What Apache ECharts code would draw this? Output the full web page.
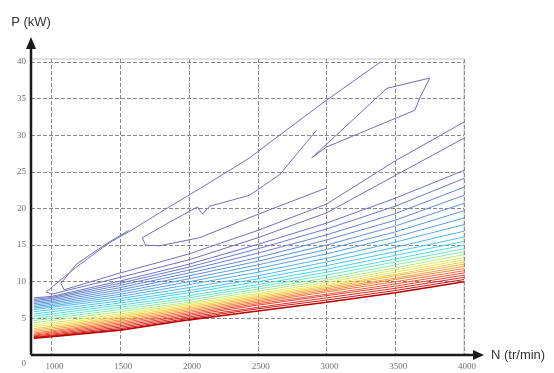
<!DOCTYPE html>
<html>
<head>
<meta charset="utf-8">
<script src="https://cdn.jsdelivr.net/npm/echarts@6/dist/echarts.min.js"></script>
<style>
  html, body { margin: 0; padding: 0; background: #fff; }
  #chart { width: 554px; height: 373px; }
</style>
</head>
<body>
<div id="chart"></div>
<script>
// Carte de contours P(N) — lignes
const speedTicks = [1000, 1500, 2000, 2500, 3000, 3500, 4000];
const powerTicks = [0, 5, 10, 15, 20, 25, 30, 35, 40];
const N_GRID = [870, 1000, 1500, 2000, 2500, 3000, 3500, 4000];

// contours fermés / en épingle (haut de la carte), points [N, P]
const hairpinA1 = [[3394, 40], [3001, 34.8], [2658, 30.0], [2440, 26.9], [2112, 23.1], [1784, 19.4],
  [1587, 17.1], [1419, 15.3], [1179, 12.0], [960, 8.6], [1000, 8.3], [1500, 10.6], [2000, 13.0],
  [2500, 16.0], [3000, 19.4], [3500, 24.5], [4000, 29.6]];
const hairpinA2 = [[1560, 17.0], [1400, 15.2], [1180, 12.4], [1069, 9.8], [1090, 8.9], [1500, 11.2],
  [2000, 13.8], [2500, 17.0], [3000, 20.6], [3500, 26.5], [4000, 31.8]];
const hairpinC2 = [[2928, 30.7], [2658, 24.6], [2440, 21.8], [2148, 20.3], [2097, 19.2], [2061, 20.2],
  [1856, 18.1], [1660, 16.0], [1682, 15.0], [1784, 14.9], [2075, 16.0], [2500, 19.2], [3000, 22.8]];
const island = [[2892, 26.9], [3439, 36.4], [3751, 37.8], [3679, 35.1], [3642, 33.4], [3001, 28.4], [2892, 26.9]];

// lignes ouvertes, P lu aux vitesses N_GRID (du haut vers le bas)
const blueP = [
  [7.8, 8.0, 10.1, 12.4, 15.1, 18.0, 21.4, 25.2],
  [7.6, 7.85, 9.8, 12.0, 14.5, 17.2, 20.3, 24.1],
  [7.4, 7.7, 9.5, 11.6, 13.9, 16.4, 19.3, 22.9],
  [7.2, 7.5, 9.2, 11.2, 13.3, 15.7, 18.4, 21.8],
  [7.0, 7.3, 8.9, 10.8, 12.8, 15.0, 17.6, 20.7],
  [6.8, 7.1, 8.6, 10.4, 12.3, 14.4, 16.8, 19.7],
  [6.6, 6.9, 8.3, 10.0, 11.8, 13.8, 16.1, 18.7],
  [6.4, 6.7, 8.0, 9.6, 11.3, 13.2, 15.4, 17.8],
  [6.2, 6.5, 7.7, 9.2, 10.8, 12.7, 14.7, 16.9]
];
const cyanP = [
  [5.9, 6.2, 7.4, 8.8, 10.4, 12.2, 14.1, 16.1],
  [5.6, 5.9, 7.1, 8.5, 10.0, 11.7, 13.6, 15.5],
  [5.3, 5.6, 6.8, 8.1, 9.6, 11.3, 13.1, 15.0],
  [5.0, 5.3, 6.5, 7.8, 9.3, 10.9, 12.7, 14.5]
];
const greenP = [
  [4.7, 5.0, 6.2, 7.5, 9.0, 10.5, 12.3, 14.1],
  [4.4, 4.7, 5.9, 7.2, 8.7, 10.2, 11.9, 13.7]
];
const yellowP = [
  [4.1, 4.4, 5.6, 7.0, 8.4, 9.9, 11.6, 13.3],
  [3.85, 4.15, 5.4, 6.8, 8.2, 9.6, 11.3, 13.0],
  [3.6, 3.9, 5.2, 6.6, 8.0, 9.4, 11.0, 12.7]
];
const orangeP = [
  [3.4, 3.7, 5.0, 6.4, 7.8, 9.2, 10.8, 12.4],
  [3.2, 3.5, 4.8, 6.2, 7.6, 9.0, 10.5, 12.1],
  [3.0, 3.3, 4.6, 6.0, 7.4, 8.8, 10.3, 11.8],
  [2.85, 3.15, 4.4, 5.8, 7.2, 8.6, 10.0, 11.5]
];
const redP = [
  [2.7, 3.0, 4.2, 5.6, 7.0, 8.3, 9.7, 11.2],
  [2.6, 2.85, 4.0, 5.4, 6.8, 8.1, 9.4, 10.9],
  [2.5, 2.7, 3.8, 5.2, 6.5, 7.8, 9.1, 10.6],
  [2.4, 2.6, 3.6, 5.0, 6.3, 7.5, 8.8, 10.3],
  [2.3, 2.5, 3.4, 4.8, 6.0, 7.2, 8.5, 10.0]
];

const VIOLET = '#7070b8';
const COLORS = {
  blue: ['#6c74c4', '#6a7ac8', '#6680cc', '#6288d2', '#5e90d8', '#5a98dc', '#56a2e0', '#52aee4', '#4ebae6'],
  cyan: ['#4cc6e8', '#4cd2e6', '#56dcd8', '#6ae4c4'],
  green: ['#8ee8a0', '#b4ec80'],
  yellow: ['#dcec60', '#f4e44c', '#f8cc40'],
  orange: ['#f8b440', '#f89c3c', '#f68438', '#f26c34'],
  red: ['#ee5430', '#e63c2a', '#dc2820', '#cc1414', '#b80000']
};

const X_MIN = 850, X_MAX = 4000, Y_MIN = 0, Y_MAX = 40.4;

function lineSeries(data, color, width) {
  return {
    type: 'line', data, showSymbol: false, silent: true,
    lineStyle: { color, width: width || 1 }, z: 3
  };
}

const series = [];
[island, hairpinC2, hairpinA2, hairpinA1].forEach(pts => series.push(lineSeries(pts, VIOLET)));
[['blue', blueP], ['cyan', cyanP], ['green', greenP], ['yellow', yellowP], ['orange', orangeP], ['red', redP]]
  .forEach(([k, rows]) => rows.forEach((row, i) => {
    const last = k === 'red' && i === rows.length - 1;
    series.push(lineSeries(N_GRID.map((n, j) => [n, row[j]]), COLORS[k][i], last ? 1.6 : 1));
  }));

const grey = '#8a8a8a';
const labelFont = { fontFamily: 'Liberation Serif', fontSize: 9, color: '#707070' };

const chart = echarts.init(document.getElementById('chart'), null, { renderer: 'canvas' });
chart.setOption({
  animation: false,
  grid: { left: 31, right: 90, top: 59, bottom: 18, show: true, borderColor: '#c4c4c4', borderWidth: 1 },
  xAxis: {
    type: 'value', min: X_MIN, max: X_MAX,
    name: 'N (tr/min)', nameLocation: 'end', nameGap: 27,
    nameTextStyle: { fontFamily: 'Liberation Sans', fontSize: 13, color: '#333', verticalAlign: 'middle' },
    axisLine: { show: false },
    axisTick: { show: false, customValues: speedTicks },
    axisLabel: Object.assign({ customValues: speedTicks, margin: 7, padding: [0, 0, 0, 6], formatter: v => String(v) }, labelFont),
    splitLine: { show: true, lineStyle: { color: grey, type: [4, 2], width: 1 } }
  },
  yAxis: {
    type: 'value', min: Y_MIN, max: Y_MAX,
    name: 'P (kW)', nameLocation: 'end', nameGap: 30,
    nameTextStyle: { fontFamily: 'Liberation Sans', fontSize: 13, color: '#333', align: 'center' },
    axisLine: { show: false },
    axisTick: { show: false, customValues: powerTicks },
    axisLabel: Object.assign({
      customValues: powerTicks, margin: 5,
      formatter: v => (v === 0 ? '{z|0}' : String(v)),
      rich: { z: { fontFamily: 'Liberation Serif', fontSize: 9, color: '#707070', padding: [18, 0, 0, 0] } }
    }, labelFont),
    splitLine: { show: true, lineStyle: { color: grey, type: [4, 2], width: 1 } }
  },
  series
});

// axes fléchées (dépassent le cadre comme sur la figure)
const o = chart.convertToPixel({ gridIndex: 0 }, [X_MIN, Y_MIN]);
const t = chart.convertToPixel({ gridIndex: 0 }, [X_MIN, Y_MAX]);
const r = chart.convertToPixel({ gridIndex: 0 }, [X_MAX, Y_MIN]);
const ink = '#1a1a1a';
chart.setOption({
  graphic: [
    { type: 'line', z: 10, shape: { x1: o[0], y1: o[1], x2: o[0], y2: t[1] - 11 }, style: { stroke: ink, lineWidth: 2.5 } },
    { type: 'polygon', z: 10, shape: { points: [[o[0], t[1] - 22], [o[0] - 5, t[1] - 10], [o[0] + 5, t[1] - 10]] }, style: { fill: ink } },
    { type: 'line', z: 10, shape: { x1: o[0], y1: o[1], x2: r[0] + 10, y2: o[1] }, style: { stroke: ink, lineWidth: 2.5 } },
    { type: 'polygon', z: 10, shape: { points: [[r[0] + 20, o[1]], [r[0] + 9, o[1] - 5], [r[0] + 9, o[1] + 5]] }, style: { fill: ink } }
  ]
});
</script>
</body>
</html>
